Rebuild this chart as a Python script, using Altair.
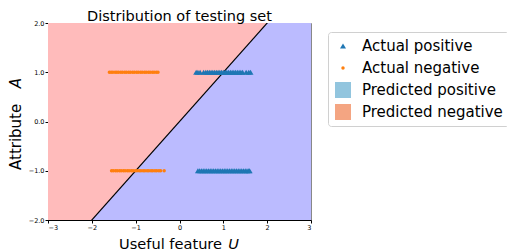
import altair as alt
import pandas as pd

# ---- data ----
line_x = [-3.0, 3.0]          # decision boundary A = U
x_domain = [-3, 3]
y_domain = [-2, 2]
x_ticks = [-3, -2, -1, 0, 1, 2, 3]
y_ticks = [-2.0, -1.5, -1.0, -0.5, 0.0, 0.5, 1.0, 1.5, 2.0]

neg_top_x = [-1.60, -1.56, -1.52, -1.47, -1.43, -1.39, -1.34, -1.30, -1.25, -1.21, -1.16,
             -1.12, -1.07, -1.03, -0.98, -0.94, -0.89, -0.85, -0.80, -0.76, -0.71, -0.67,
             -0.62, -0.58, -0.53, -0.49]
neg_bot_x = [-1.55, -1.51, -1.46, -1.42, -1.37, -1.33, -1.28, -1.24, -1.19, -1.15, -1.10,
             -1.06, -1.01, -0.97, -0.92, -0.88, -0.83, -0.79, -0.74, -0.70, -0.65, -0.61,
             -0.56, -0.52, -0.47, -0.43, -0.35]
pos_top_x = [0.38, 0.42, 0.47, 0.55, 0.60, 0.64, 0.68, 0.72, 0.76, 0.80, 0.84, 0.88, 0.92,
             0.96, 1.00, 1.04, 1.08, 1.12, 1.16, 1.20, 1.24, 1.28, 1.32, 1.36, 1.40, 1.44,
             1.52, 1.58, 1.62]
pos_bot_x = [0.42, 0.46, 0.50, 0.54, 0.58, 0.62, 0.66, 0.70, 0.74, 0.78, 0.82, 0.86, 0.90,
             0.94, 0.98, 1.02, 1.06, 1.10, 1.14, 1.18, 1.22, 1.26, 1.30, 1.34, 1.38, 1.42,
             1.46, 1.50, 1.54, 1.58, 1.60]

labels = ["Actual positive", "Actual negative", "Predicted positive", "Predicted negative"]
label_colors = ["#1f77b4", "#ff7f0e", "#92c5de", "#f4a582"]
label_shapes = ["triangle-up", "circle", "square", "square"]
label_sizes = [36, 12, 256, 256]

title_text = "Distribution of testing set"
x_title = ["Useful feature", "U"]
y_title = ["Attribute", "A"]

FONT = "DejaVu Sans"

# ---- tables ----
pts = pd.DataFrame(
    [{"u": x, "a": 1.0, "label": labels[1]} for x in neg_top_x]
    + [{"u": x, "a": -1.0, "label": labels[1]} for x in neg_bot_x]
    + [{"u": x, "a": 1.0, "label": labels[0]} for x in pos_top_x]
    + [{"u": x, "a": -1.0, "label": labels[0]} for x in pos_bot_x]
    # legend-only entries (outside the domain, clipped away)
    + [{"u": -10.0, "a": -10.0, "label": labels[2]},
       {"u": -10.0, "a": -10.0, "label": labels[3]}]
)
bound = pd.DataFrame({"u": line_x, "a": line_x,
                      "top": [y_domain[1]] * 2, "bot": [y_domain[0]] * 2})

xs = alt.Scale(domain=x_domain, nice=False, zero=False)
ys = alt.Scale(domain=y_domain, nice=False, zero=False)

xax = alt.Axis(values=x_ticks, format="d", title=None, grid=False)
yax = alt.Axis(values=y_ticks, format=".1f", title=None, grid=False)

upper = alt.Chart(bound).mark_area(color="#ffbbbb", clip=True, opacity=1).encode(
    x=alt.X("u:Q", scale=xs, axis=xax),
    y=alt.Y("a:Q", scale=ys, axis=yax),
    y2="top:Q",
)
lower = alt.Chart(bound).mark_area(color="#bbbbff", clip=True, opacity=1).encode(
    x=alt.X("u:Q", scale=xs),
    y=alt.Y("bot:Q", scale=ys),
    y2="a:Q",
)
boundary = alt.Chart(bound).mark_line(color="black", strokeWidth=1.2, clip=True).encode(
    x=alt.X("u:Q", scale=xs),
    y=alt.Y("a:Q", scale=ys),
)
points = alt.Chart(pts).mark_point(filled=True, opacity=1, clip=True).encode(
    x=alt.X("u:Q", scale=xs),
    y=alt.Y("a:Q", scale=ys),
    color=alt.Color("label:N", title=None,
                    scale=alt.Scale(domain=labels, range=label_colors)),
    shape=alt.Shape("label:N", title=None,
                    scale=alt.Scale(domain=labels, range=label_shapes)),
    size=alt.Size("label:N", title=None,
                  scale=alt.Scale(type="ordinal", domain=labels, range=label_sizes)),
)


def txt(s, x, y, size=15, **kw):
    return alt.Chart(pd.DataFrame({"t": [s]})).mark_text(
        font=FONT, fontSize=size, color="black", **kw
    ).encode(text="t:N", x=alt.value(x), y=alt.value(y))


tt = txt(title_text, 131.5, -2, size=14.5, align="center", baseline="alphabetic")
xt1 = txt(x_title[0], 71, 226, size=14.6, align="left", baseline="alphabetic")
xt2 = txt(x_title[1], 191, 226, size=14.6, align="right", baseline="alphabetic",
          fontStyle="italic")
yt1 = txt(y_title[0], -27, 147, align="left", baseline="alphabetic", angle=270)
yt2 = txt(y_title[1], -27, 55, align="right", baseline="alphabetic", angle=270,
          fontStyle="italic")

chart = alt.layer(upper, lower, boundary, points, tt, xt1, xt2, yt1, yt2).properties(
    width=263, height=197,
    autosize=alt.AutoSizeParams(type="none"),
    padding={"left": 40, "top": 15, "right": 196, "bottom": 32},
).configure_axis(
    labelFont=FONT, labelFontSize=6.5, labelColor="black",
    domainColor="black", tickColor="black", tickSize=3, labelPadding=1,
).configure_view(
    stroke="#888888", strokeWidth=1
).configure_legend(
    orient="none", legendX=280, legendY=9,
    labelFont=FONT, labelFontSize=15, labelColor="black",
    strokeColor="#d0d0d0", fillColor="white", cornerRadius=3, padding=6,
    rowPadding=6, clipHeight=16, symbolOpacity=1, labelOffset=10,
)

chart.save("out.html", embed_options={"renderer": "svg", "actions": False})
